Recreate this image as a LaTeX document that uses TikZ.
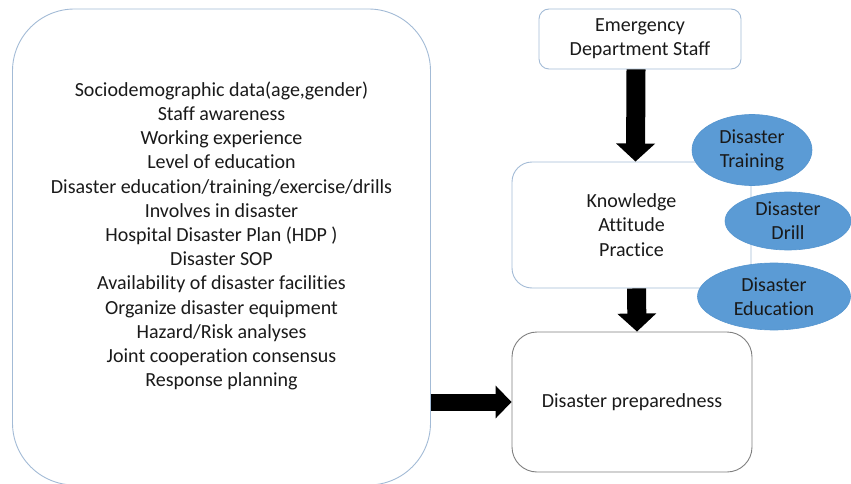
\documentclass[tikz,border=0pt]{standalone}
\usepackage{fontspec}
\setmainfont{Carlito}[Ligatures=NoCommon]
\usetikzlibrary{shapes.geometric,arrows.meta,calc}
\definecolor{boxblue}{HTML}{A3BBD6}
\definecolor{boxgray}{HTML}{7F7F7F}
\definecolor{ellfill}{HTML}{5B9BD5}
\definecolor{ellline}{HTML}{5595CF}
\definecolor{txt}{HTML}{1A1A1A}
\begin{document}
\begin{tikzpicture}[x=1pt,y=-1pt,
  font=\fontsize{20}{24.2}\selectfont, text=txt,
  box/.style={draw=boxblue, line width=0.9pt, rounded corners=#1, fill=white, inner sep=0pt, align=center},
  ell/.style={ellipse, draw=ellline, line width=0.6pt, fill=ellfill, inner sep=0pt, align=center, text=black!90},
  bigarrow/.style={draw=black, line width=19pt, -{Triangle[length=18pt,width=38pt]}},
  sidearrow/.style={draw=black, line width=17pt, -{Triangle[length=16pt,width=32pt]}}]
\useasboundingbox (0,0) rectangle (851,484);
% left box
\node[box=62pt, minimum width=418pt, minimum height=476pt] (factors) at (221.5,247) {};
\node[align=center] (factorlist) at (221.5,236) {Sociodemographic data(age,gender)\\
Staff awareness\\
Working experience\\
Level of education\\
Disaster education/training/exercise/drills\\
Involves in disaster\\
Hospital Disaster Plan (HDP )\\
Disaster SOP\\
Availability of disaster facilities\\
Organize disaster equipment\\
Hazard/Risk analyses\\
Joint cooperation consensus\\
Response planning};
% right column
\node[box=10pt, minimum width=202pt, minimum height=60pt] (eds) at (640,39) {Emergency\\Department Staff};
\node[box=20pt, minimum width=239pt, minimum height=126pt] (kap) at (631.5,225) {Knowledge\\Attitude\\Practice};
\node[box=25pt, draw=boxgray, minimum width=240pt, minimum height=140pt] (dp) at (632,402) {Disaster preparedness};
% ellipses
\node[ell, minimum width=120pt, minimum height=71pt] (training) at (752,150) {Disaster\\Training};
\node[ell, minimum width=126pt, minimum height=58pt] (drill) at (788,221) {Disaster\\Drill};
\node[ell, minimum width=153pt, minimum height=67pt] (education) at (774,296.5) {Disaster\\Education};
% arrows
\draw[bigarrow] ([xshift=-4pt]eds.south) -- ([xshift=4pt]kap.north);
\draw[bigarrow] ([xshift=5pt]kap.south) -- ([xshift=5pt]dp.north);
\draw[sidearrow] (factors.east |- dp.west) -- (dp.west);
\end{tikzpicture}
\end{document}
